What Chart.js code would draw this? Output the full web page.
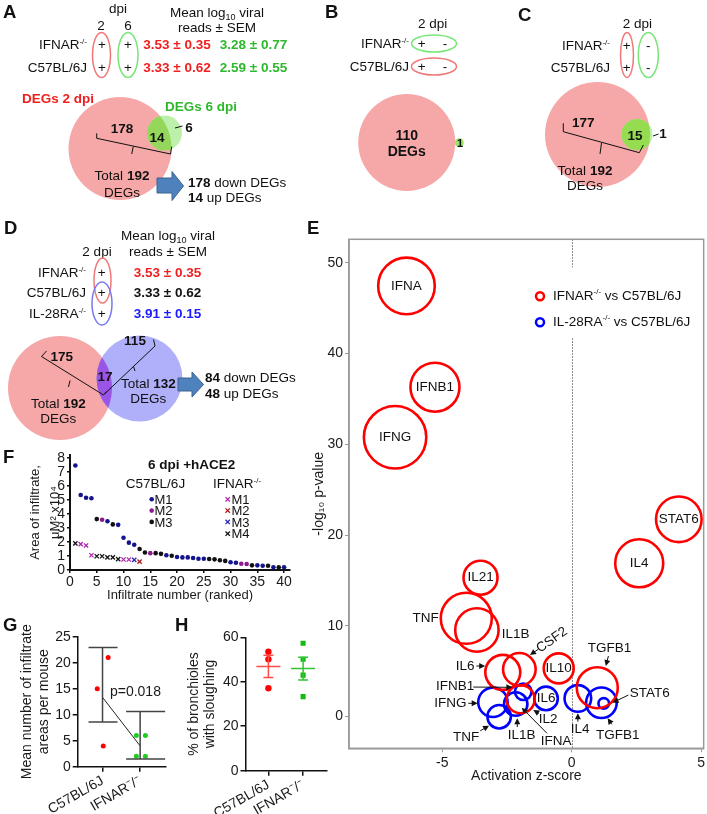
<!DOCTYPE html>
<html>
<head>
<meta charset="utf-8">
<script src="https://cdn.jsdelivr.net/npm/chart.js@4.4.1/dist/chart.umd.min.js"></script>
<style>
  body { margin: 0; background: #fff; }
  #wrap { position: relative; width: 707px; height: 814px; overflow: hidden; font-family: "Liberation Sans", Arial, sans-serif; }
  canvas { position: absolute; }
  svg { position: absolute; left: 0; top: 0; }
</style>
</head>
<body>
<div id="wrap">
<canvas id="chartE" width="407" height="589" style="left:300px;top:225px"></canvas>
<canvas id="chartF" width="300" height="165" style="left:0px;top:440px"></canvas>
<canvas id="chartG" width="175" height="204" style="left:0px;top:610px"></canvas>
<canvas id="chartH" width="155" height="204" style="left:175px;top:610px"></canvas>

<svg width="707" height="814" font-family="Liberation Sans, Arial, sans-serif" font-size="13.5" fill="#111">
  <defs>
    <clipPath id="pinkA"><circle cx="120" cy="148.5" r="51.5"/></clipPath>
    <clipPath id="pinkC"><circle cx="597.5" cy="134.5" r="52.5"/></clipPath>
    <clipPath id="pinkD"><circle cx="60" cy="388" r="52"/></clipPath>
  </defs>
  <!-- panel letters -->
  <g font-size="18.5" font-weight="bold">
    <text x="3" y="17.5">A</text>
    <text x="325" y="18">B</text>
    <text x="518" y="20.5">C</text>
    <text x="4" y="233.5">D</text>
    <text x="307" y="233.5">E</text>
    <text x="3" y="463">F</text>
    <text x="3" y="630.5">G</text>
    <text x="175" y="630.5">H</text>
  </g>

  <!-- A -->
  <text x="118" y="12.5" text-anchor="middle">dpi</text>
  <text x="101" y="29.5" text-anchor="middle">2</text>
  <text x="128" y="29.5" text-anchor="middle">6</text>
  <text x="87" y="48.5" text-anchor="end">IFNAR<tspan dy="-5" font-size="8">-/-</tspan></text>
  <text x="87" y="71.5" text-anchor="end">C57BL/6J</text>
  <ellipse cx="101.5" cy="55" rx="9" ry="22.5" fill="none" stroke="#f07878" stroke-width="1.5"/>
  <ellipse cx="128" cy="55" rx="10" ry="22.5" fill="none" stroke="#78e678" stroke-width="1.5"/>
  <g text-anchor="middle">
    <text x="102" y="48.5">+</text><text x="102" y="71.5">+</text>
    <text x="128" y="48.5">+</text><text x="128" y="71.5">+</text>
    <text x="217" y="16.5">Mean log<tspan dy="3" font-size="9">10</tspan><tspan dy="-3"> viral</tspan></text>
    <text x="217" y="31.5">reads ± SEM</text>
  </g>
  <g font-weight="bold" text-anchor="middle">
    <text x="177" y="48.5" fill="#f01e1e">3.53 ± 0.35</text>
    <text x="253.5" y="48.5" fill="#2db82d">3.28 ± 0.77</text>
    <text x="177" y="71.5" fill="#f01e1e">3.33 ± 0.62</text>
    <text x="253.5" y="71.5" fill="#2db82d">2.59 ± 0.55</text>
  </g>
  <text x="22" y="103" font-weight="bold" fill="#f01e1e">DEGs 2 dpi</text>
  <text x="165" y="111" font-weight="bold" fill="#2db82d">DEGs 6 dpi</text>
  <circle cx="120" cy="148.5" r="51.5" fill="#f6a7a7"/>
  <circle cx="164.5" cy="133" r="17.5" fill="#bdf0ab"/>
  <circle cx="164.5" cy="133" r="17.5" fill="#95d75a" clip-path="url(#pinkA)"/>
  <g font-weight="bold" text-anchor="middle">
    <text x="122" y="133">178</text>
    <text x="157" y="142">14</text>
    <text x="189" y="131.5">6</text>
  </g>
  <line x1="175" y1="128" x2="182.5" y2="126" stroke="#111" stroke-width="1"/>
  <polyline points="96.7,133.3 96.7,138.3 170.5,154 171.7,146.7" fill="none" stroke="#111" stroke-width="1"/>
  <polyline points="133.3,146.5 131.7,154" fill="none" stroke="#111" stroke-width="1"/>
  <text x="122" y="180" text-anchor="middle">Total <tspan font-weight="bold">192</tspan></text>
  <text x="122" y="197" text-anchor="middle">DEGs</text>
  <polygon points="157,178 172,178 172,171.5 183.5,186 172,200.5 172,193 157,193" fill="#4f81bd" stroke="#3a6491" stroke-width="1"/>
  <text x="188" y="186.5"><tspan font-weight="bold">178</tspan> down DEGs</text>
  <text x="188" y="201.5"><tspan font-weight="bold">14</tspan> up DEGs</text>

  <!-- B -->
  <text x="432.7" y="27.5" text-anchor="middle">2 dpi</text>
  <text x="409" y="47.5" text-anchor="end">IFNAR<tspan dy="-5" font-size="8">-/-</tspan></text>
  <text x="409" y="70.5" text-anchor="end">C57BL/6J</text>
  <ellipse cx="434" cy="43.5" rx="22.5" ry="8.5" fill="none" stroke="#78e678" stroke-width="1.5"/>
  <ellipse cx="434" cy="66.5" rx="22.5" ry="8.5" fill="none" stroke="#f07878" stroke-width="1.5"/>
  <g text-anchor="middle">
    <text x="421.7" y="47.5">+</text><text x="445" y="47.5">-</text>
    <text x="421.7" y="70.5">+</text><text x="445" y="70.5">-</text>
  </g>
  <circle cx="406.7" cy="142.5" r="48.5" fill="#f6a7a7"/>
  <circle cx="459.3" cy="142.7" r="4.5" fill="#9be26a"/>
  <g font-weight="bold" text-anchor="middle" font-size="14">
    <text x="406.7" y="139.5">110</text>
    <text x="406.7" y="155.5">DEGs</text>
    <text x="460" y="147" font-size="11">1</text>
  </g>

  <!-- C -->
  <text x="637.3" y="27.5" text-anchor="middle">2 dpi</text>
  <text x="610" y="49.5" text-anchor="end">IFNAR<tspan dy="-5" font-size="8">-/-</tspan></text>
  <text x="610" y="71.5" text-anchor="end">C57BL/6J</text>
  <ellipse cx="627" cy="55" rx="6.5" ry="22.5" fill="none" stroke="#f07878" stroke-width="1.5"/>
  <ellipse cx="648.3" cy="55" rx="10" ry="22.5" fill="none" stroke="#78e678" stroke-width="1.5"/>
  <g text-anchor="middle">
    <text x="626.7" y="49.5">+</text><text x="626.7" y="71.5">+</text>
    <text x="648.3" y="49.5">-</text><text x="648.3" y="71.5">-</text>
  </g>
  <circle cx="597.5" cy="134.5" r="52.5" fill="#f6a7a7"/>
  <circle cx="637" cy="134.5" r="15.5" fill="#bdf0ab"/>
  <circle cx="637" cy="134.5" r="15.5" fill="#95dc50" clip-path="url(#pinkC)"/>
  <g font-weight="bold" text-anchor="middle">
    <text x="583.3" y="126.5">177</text>
    <text x="635" y="140">15</text>
    <text x="663" y="137.5">1</text>
  </g>
  <line x1="653" y1="136" x2="658.5" y2="134" stroke="#111" stroke-width="1"/>
  <polyline points="563.3,123.3 563.3,131.7 639.3,152.7 643.3,145" fill="none" stroke="#111" stroke-width="1"/>
  <polyline points="601.5,143 600,154" fill="none" stroke="#111" stroke-width="1"/>
  <text x="585" y="174.5" text-anchor="middle">Total <tspan font-weight="bold">192</tspan></text>
  <text x="585" y="190" text-anchor="middle">DEGs</text>

  <!-- D -->
  <text x="168" y="239.5" text-anchor="middle">Mean log<tspan dy="3" font-size="9">10</tspan><tspan dy="-3"> viral</tspan></text>
  <text x="168" y="256" text-anchor="middle">reads ± SEM</text>
  <text x="97" y="256" text-anchor="middle">2 dpi</text>
  <text x="86" y="276.5" text-anchor="end">IFNAR<tspan dy="-5" font-size="8">-/-</tspan></text>
  <text x="86" y="297" text-anchor="end">C57BL/6J</text>
  <text x="86" y="317.5" text-anchor="end">IL-28RA<tspan dy="-5" font-size="8">-/-</tspan></text>
  <ellipse cx="102.5" cy="280.5" rx="8.5" ry="22.5" fill="none" stroke="#f07878" stroke-width="1.5"/>
  <ellipse cx="102" cy="303.5" rx="10" ry="21.5" fill="none" stroke="#7878f0" stroke-width="1.5"/>
  <g text-anchor="middle">
    <text x="101.7" y="276.5">+</text><text x="101.7" y="297">+</text><text x="101.7" y="317.5">+</text>
  </g>
  <g font-weight="bold" text-anchor="middle">
    <text x="167.5" y="276.5" fill="#f01e1e">3.53 ± 0.35</text>
    <text x="167.5" y="297" fill="#111">3.33 ± 0.62</text>
    <text x="167.5" y="317.5" fill="#1a1aff">3.91 ± 0.15</text>
  </g>
  <circle cx="60" cy="388" r="52" fill="#f6a7a7"/>
  <circle cx="139.5" cy="378.5" r="43" fill="#afaffa"/>
  <circle cx="139.5" cy="378.5" r="43" fill="#9b55e6" clip-path="url(#pinkD)"/>
  <g font-weight="bold" text-anchor="middle">
    <text x="61.7" y="361">175</text>
    <text x="135" y="344.5">115</text>
    <text x="105" y="381">17</text>
  </g>
  <polyline points="46.5,351 41.5,356.5 103.5,395 106.5,391.5" fill="none" stroke="#111" stroke-width="1"/>
  <polyline points="70,380.5 68.5,387" fill="none" stroke="#111" stroke-width="1"/>
  <polyline points="153.5,339.5 155,346 105,393.5" fill="none" stroke="#111" stroke-width="1"/>
  <polyline points="133.3,366 135,371" fill="none" stroke="#111" stroke-width="1"/>
  <text x="148.3" y="388" text-anchor="middle">Total <tspan font-weight="bold">132</tspan></text>
  <text x="148.3" y="402.5" text-anchor="middle">DEGs</text>
  <text x="58.3" y="408" text-anchor="middle">Total <tspan font-weight="bold">192</tspan></text>
  <text x="58.3" y="423" text-anchor="middle">DEGs</text>
  <polygon points="178,378 192,378 192,372 203.5,384.5 192,397 192,391 178,391" fill="#4f81bd" stroke="#3a6491" stroke-width="1"/>
  <text x="205" y="381.5"><tspan font-weight="bold">84</tspan> down DEGs</text>
  <text x="205" y="398"><tspan font-weight="bold">48</tspan> up DEGs</text>

  <!-- F legend -->
  <text x="191.7" y="469" text-anchor="middle" font-weight="bold">6 dpi +hACE2</text>
  <text x="155.5" y="487.5" text-anchor="middle">C57BL/6J</text>
  <text x="213" y="487.5">IFNAR<tspan dy="-5" font-size="8">-/-</tspan></text>
  <g font-size="13">
    <circle cx="151.7" cy="499.3" r="2.3" fill="#14148c"/><text x="154.5" y="504">M1</text>
    <circle cx="151.7" cy="510.6" r="2.3" fill="#8c1a8c"/><text x="154.5" y="515.3">M2</text>
    <circle cx="151.7" cy="521.9" r="2.3" fill="#111"/><text x="154.5" y="526.6">M3</text>
    <path d="M225.5,497.1 l4.4,4.4 M225.5,501.5 l4.4,-4.4" stroke="#b026b0" stroke-width="1.3"/><text x="231.5" y="504">M1</text>
    <path d="M225.5,508.4 l4.4,4.4 M225.5,512.8 l4.4,-4.4" stroke="#b01818" stroke-width="1.3"/><text x="231.5" y="515.3">M2</text>
    <path d="M225.5,519.7 l4.4,4.4 M225.5,524.1 l4.4,-4.4" stroke="#2828b4" stroke-width="1.3"/><text x="231.5" y="526.6">M3</text>
    <path d="M225.5,531.5 l4.4,4.4 M225.5,535.9 l4.4,-4.4" stroke="#111" stroke-width="1.3"/><text x="231.5" y="538.4">M4</text>
  </g>
</svg>
</div>

<script>
// ---------- E: upstream regulators ----------
const xTicksE = [-5, 0, 5];
const yTicksE = [0, 10, 20, 30, 40, 50];
const ifnarGenes = ['IFNA', 'IFNB1', 'IFNG', 'STAT6', 'IL4', 'IL21', 'TNF', 'IL1B', 'IL6', 'CSF2', 'IL10', 'TGFB1', 'IL2'];
const ifnarZ     = [-6.38, -5.28, -6.82, 4.14, 2.61, -3.52, -4.07, -3.66, -2.66, -2.02, -0.50, 0.99, -1.97];
const ifnarP     = [47.46, 36.3, 30.78, 21.74, 16.89, 15.3, 10.83, 9.54, 4.87, 5.2, 5.31, 3.18, 1.9];
const ifnarSize  = [28.3, 24.5, 31.2, 22.8, 24, 17, 25.5, 21.7, 17.5, 16.3, 15, 20.5, 14];
const il28Genes  = ['IFNG', 'TNF', 'IL1B', 'IFNB1', 'IL6', 'IL4', 'TGFB1', 'STAT6'];
const il28Z      = [-3.04, -2.80, -2.16, -1.87, -0.99, 0.24, 1.15, 1.24];
const il28P      = [1.57, -0.02, 1.38, 2.73, 2.0, 2.0, 1.52, 1.45];
const il28Size   = [14.7, 11.7, 11.7, 8.3, 11.8, 13.3, 15.3, 5.3];

// labels drawn inside the circle
const insideE = [['r', 'IFNA'], ['r', 'IFNB1'], ['r', 'IFNG'], ['r', 'STAT6'], ['r', 'IL4'], ['r', 'IL21'], ['r', 'IL10'], ['b', 'IL6']];
// outside labels: text position and arrow (from -> to), in axis units
const calloutsE = [
  {t: 'TNF',   at: [-5.64, 10.86]},
  {t: 'IL1B',  at: [-2.16, 9.10]},
  {t: 'IL6',   at: [-4.11, 5.57], from: [-3.68, 5.57], to: [-3.34, 5.57]},
  {t: 'CSF2',  at: [-0.76, 8.43], from: [-1.29, 7.41], to: [-1.61, 6.78], rot: -35},
  {t: 'TGFB1', at: [1.46, 7.52],  from: [1.42, 6.67],  to: [1.32, 5.57]},
  {t: 'IFNB1', at: [-4.50, 3.29], from: [-3.80, 3.25], to: [-2.29, 3.22]},
  {t: 'IFNG',  at: [-4.68, 1.46], from: [-3.99, 1.46], to: [-3.63, 1.46]},
  {t: 'TNF',   at: [-4.08, -2.29], from: [-3.53, -1.57], to: [-3.19, -1.01]},
  {t: 'IL1B',  at: [-1.93, -2.04], from: [-2.10, -1.16], to: [-2.10, -0.20]},
  {t: 'IFNA',  at: [-0.60, -2.70], from: [-0.95, -1.85], to: [-1.93, 0.97]},
  {t: 'IL2',   at: [-0.91, -0.28], from: [-1.27, 0.35],  to: [-1.48, 0.72]},
  {t: 'IL4',   at: [0.33, -1.38],  from: [0.24, -0.57],  to: [0.24, 0.35]},
  {t: 'TGFB1', at: [1.78, -2.12],  from: [1.55, -0.86],  to: [1.39, -0.20]},
  {t: 'STAT6', at: [3.02, 2.56],   from: [2.19, 2.37],   to: [1.58, 1.52]}
];

// ---------- F: infiltrate areas ----------
const xTicksF = [0, 5, 10, 15, 20, 25, 30, 35, 40];
const yTicksF = [0, 1, 2, 3, 4, 5, 6, 7, 8];
const c57Area  = [7.45, 5.35, 5.15, 5.12, 3.63, 3.58, 3.48, 3.25, 3.22, 2.3, 1.95, 1.8, 1.5, 1.25, 1.2, 1.2, 1.15, 1.05, 1.02, 0.93,
                  0.9, 0.9, 0.86, 0.8, 0.8, 0.78, 0.76, 0.7, 0.65, 0.55, 0.52, 0.45, 0.43, 0.33, 0.33, 0.3, 0.3, 0.2, 0.2, 0.2];
const c57Mouse = ['M1', 'M1', 'M1', 'M1', 'M3', 'M2', 'M1', 'M3', 'M1', 'M1', 'M1', 'M1', 'M3', 'M3', 'M2', 'M3', 'M3', 'M1', 'M3', 'M1',
                  'M1', 'M1', 'M1', 'M1', 'M1', 'M3', 'M3', 'M3', 'M3', 'M1', 'M1', 'M2', 'M2', 'M3', 'M1', 'M1', 'M3', 'M1', 'M3', 'M1'];
const ifnarArea  = [1.9, 1.85, 1.75, 1.05, 0.98, 0.98, 0.9, 0.9, 0.78, 0.75, 0.75, 0.72, 0.6];
const ifnarMouse = ['M4', 'M1', 'M1', 'M1', 'M4', 'M4', 'M4', 'M4', 'M4', 'M1', 'M1', 'M3', 'M2'];

// ---------- G: infiltrate areas per mouse ----------
const groups = ['C57BL/6J', 'IFNAR\u207B/\u207B'];
const gC57   = [21, 15, 4];
const gC57X  = [1.15, 0.86, 1.02];
const gIfnar = [6, 6, 2, 2];
const gIfnarX = [1.90, 2.14, 1.90, 2.14];
const gLow  = [8.6, 1.5];
const gHigh = [22.9, 10.6];
const yTicksG = [0, 5, 10, 15, 20, 25];

// ---------- H: bronchioles with sloughing ----------
const hC57   = [53.5, 50.1, 37.1];
const hIfnar = [57.3, 50.1, 43.0, 33.3];
const yTicksH = [0, 20, 40, 60];

const FONT = '"Liberation Sans", Arial, sans-serif';
Chart.defaults.font.family = FONT;
Chart.defaults.color = '#1a1a1a';
Chart.defaults.animation = false;
Chart.defaults.responsive = false;
Chart.defaults.plugins.legend.display = false;
Chart.defaults.plugins.tooltip.enabled = false;

function only(vals) { return s => { s.ticks = vals.map(v => ({value: v})); }; }
function fixW(w) { return s => { s.width = w; }; }
function fixH(h) { return s => { s.height = h; }; }
function mean(a) { return a.reduce((s, v) => s + v, 0) / a.length; }
function sem(a) {
  const m = mean(a);
  return Math.sqrt(a.reduce((s, v) => s + (v - m) * (v - m), 0) / (a.length - 1)) / Math.sqrt(a.length);
}

function arrow(ctx, x1, y1, x2, y2) {
  const ang = Math.atan2(y2 - y1, x2 - x1), L = 6, W = 3;
  ctx.beginPath(); ctx.moveTo(x1, y1); ctx.lineTo(x2 - Math.cos(ang) * L * 0.8, y2 - Math.sin(ang) * L * 0.8); ctx.stroke();
  ctx.beginPath();
  ctx.moveTo(x2, y2);
  ctx.lineTo(x2 - L * Math.cos(ang) + W * Math.sin(ang), y2 - L * Math.sin(ang) - W * Math.cos(ang));
  ctx.lineTo(x2 - L * Math.cos(ang) - W * Math.sin(ang), y2 - L * Math.sin(ang) + W * Math.cos(ang));
  ctx.closePath(); ctx.fill();
}

// text with a small raised part, e.g. IFNAR-/-
function supText(ctx, parts, x, y) {
  parts.forEach(([txt, size, dy]) => {
    ctx.font = size + 'px ' + FONT;
    ctx.fillText(txt, x, y + dy);
    x += ctx.measureText(txt).width;
  });
}

const eExtras = {
  id: 'eExtras',
  beforeDatasetsDraw(chart) {
    const {ctx, chartArea: a, scales: {x}} = chart;
    const x0 = Math.round(x.getPixelForValue(0)) + 0.5;
    ctx.save();
    ctx.strokeStyle = '#666'; ctx.lineWidth = 1; ctx.setLineDash([1.5, 1.5]);
    ctx.beginPath(); ctx.moveTo(x0, a.top); ctx.lineTo(x0, a.bottom); ctx.stroke();
    ctx.restore();
  },
  afterDatasetsDraw(chart) {
    const {ctx, chartArea: a, scales: {x, y}} = chart;
    ctx.save();
    ctx.strokeStyle = '#999'; ctx.lineWidth = 1.5;
    ctx.strokeRect(a.left, a.top, a.right - a.left, a.bottom - a.top);

    ctx.fillStyle = '#111'; ctx.strokeStyle = '#111'; ctx.lineWidth = 1;
    ctx.font = '13.5px ' + FONT; ctx.textAlign = 'center'; ctx.textBaseline = 'middle';
    insideE.forEach(([set, g]) => {
      const genes = set === 'r' ? ifnarGenes : il28Genes;
      const zs = set === 'r' ? ifnarZ : il28Z, ps = set === 'r' ? ifnarP : il28P;
      const i = genes.indexOf(g);
      ctx.fillText(g, x.getPixelForValue(zs[i]), y.getPixelForValue(ps[i]));
    });
    calloutsE.forEach(c => {
      const lx = x.getPixelForValue(c.at[0]), ly = y.getPixelForValue(c.at[1]);
      if (c.rot) {
        ctx.save(); ctx.translate(lx, ly); ctx.rotate(c.rot * Math.PI / 180);
        ctx.fillText(c.t, 0, 0); ctx.restore();
      } else {
        ctx.fillText(c.t, lx, ly);
      }
      if (c.from) arrow(ctx, x.getPixelForValue(c.from[0]), y.getPixelForValue(c.from[1]),
                        x.getPixelForValue(c.to[0]), y.getPixelForValue(c.to[1]));
    });

    // legend
    const lx = a.left + 191, ly1 = a.top + 57, ly2 = a.top + 83;
    ctx.fillStyle = '#fff';
    ctx.fillRect(lx - 12, a.top + 28, 162, 70);
    ctx.lineWidth = 2.5;
    ctx.strokeStyle = '#ff0000'; ctx.beginPath(); ctx.arc(lx, ly1, 4, 0, 2 * Math.PI); ctx.stroke();
    ctx.strokeStyle = '#0000ff'; ctx.beginPath(); ctx.arc(lx, ly2, 4, 0, 2 * Math.PI); ctx.stroke();
    ctx.fillStyle = '#111'; ctx.textAlign = 'left';
    supText(ctx, [['IFNAR', 13.5, 0], ['-/-', 8, -5], [' vs C57BL/6J', 13.5, 0]], lx + 13, ly1);
    supText(ctx, [['IL-28RA', 13.5, 0], ['-/-', 8, -5], [' vs C57BL/6J', 13.5, 0]], lx + 13, ly2);
    ctx.restore();
  }
};

new Chart(document.getElementById('chartE'), {
  type: 'bubble',
  data: {
    datasets: [
      {data: ifnarGenes.map((g, i) => ({x: ifnarZ[i], y: ifnarP[i], r: ifnarSize[i]})),
       borderColor: '#ff0000', backgroundColor: 'rgba(0,0,0,0)', borderWidth: 2.6, clip: false},
      {data: il28Genes.map((g, i) => ({x: il28Z[i], y: il28P[i], r: il28Size[i]})),
       borderColor: '#0000ff', backgroundColor: 'rgba(0,0,0,0)', borderWidth: 2.6, clip: false}
    ]
  },
  options: {
    layout: {autoPadding: false, padding: {top: 14.3, right: 2, left: 0, bottom: 0}},
    scales: {
      x: {type: 'linear', min: -8.6, max: 5.1, afterBuildTicks: only(xTicksE), afterFit: fixH(65.7),
          grid: {drawOnChartArea: false, color: '#999', tickLength: 4},
          border: {color: '#999', width: 1.5},
          ticks: {font: {size: 14}, color: '#1a1a1a', padding: 2, autoSkip: false},
          title: {display: true, text: 'Activation z-score', font: {size: 14}, color: '#1a1a1a', padding: {top: 0, bottom: 29.6}}},
      y: {type: 'linear', min: -3.5, max: 52.6, afterBuildTicks: only(yTicksE), afterFit: fixW(49),
          grid: {drawOnChartArea: false, color: '#999', tickLength: 4},
          border: {color: '#999', width: 1.5},
          ticks: {font: {size: 14}, color: '#1a1a1a', padding: 2, autoSkip: false},
          title: {display: true, text: '-log\u2081\u2080 p-value', font: {size: 14}, color: '#1a1a1a', padding: {top: 11, bottom: 0}}}
    }
  },
  plugins: [eExtras]
});

// ---------- F ----------
const c57Colors   = {M1: '#14148c', M2: '#8c1a8c', M3: '#111111'};
const ifnarColors = {M1: '#b026b0', M2: '#b01818', M3: '#2828b4', M4: '#111111'};
const dsF = [];
Object.keys(ifnarColors).forEach(m => dsF.push({
  data: ifnarArea.map((v, i) => ({x: i + 1, y: v, m: ifnarMouse[i]})).filter(p => p.m === m),
  pointStyle: 'crossRot', pointRadius: 3, borderColor: ifnarColors[m], borderWidth: 1.3
}));
Object.keys(c57Colors).forEach(m => dsF.push({
  data: c57Area.map((v, i) => ({x: i + 1, y: v, m: c57Mouse[i]})).filter(p => p.m === m),
  pointStyle: 'circle', pointRadius: 2.3, backgroundColor: c57Colors[m], borderColor: c57Colors[m], borderWidth: 0
}));

new Chart(document.getElementById('chartF'), {
  type: 'scatter',
  data: {datasets: dsF},
  options: {
    layout: {autoPadding: false, padding: {top: 15, right: 10, left: 0, bottom: 0}},
    scales: {
      x: {type: 'linear', min: 0, max: 41.1, afterBuildTicks: only(xTicksF), afterFit: fixH(35),
          grid: {drawOnChartArea: false, color: '#111', tickLength: 3, lineWidth: 1.5},
          border: {color: '#111', width: 2},
          ticks: {font: {size: 14}, color: '#1a1a1a', padding: 1, autoSkip: false, maxRotation: 0},
          title: {display: true, text: 'Infiltrate number (ranked)', font: {size: 13}, color: '#1a1a1a', padding: {top: 0, bottom: 1.5}}},
      y: {type: 'linear', min: 0, max: 8.2, afterBuildTicks: only(yTicksF), afterFit: fixW(70),
          grid: {drawOnChartArea: false, color: '#111', tickLength: 3, lineWidth: 1.5},
          border: {color: '#111', width: 2},
          ticks: {font: {size: 14, lineHeight: 1}, color: '#1a1a1a', padding: 2, autoSkip: false},
          title: {display: true, text: ['Area of infiltrate,', '\u03BCM\u00B2 x10\u2074'], font: {size: 13, lineHeight: 1.55}, color: '#1a1a1a', padding: {top: 25, bottom: 0}}}
    }
  }
});

// ---------- G / H shared ----------
const errBars = {
  id: 'errBars',
  afterDatasetsDraw(chart, args, opts) {
    const {ctx, scales: {x, y}} = chart;
    ctx.save();
    (opts.bars || []).forEach(b => {
      const cx = x.getPixelForValue(b.x);
      ctx.strokeStyle = b.color; ctx.lineWidth = b.width;
      ctx.beginPath();
      ctx.moveTo(cx, y.getPixelForValue(b.lo)); ctx.lineTo(cx, y.getPixelForValue(b.hi));
      [b.lo, b.hi].forEach(v => {
        const py = y.getPixelForValue(v);
        ctx.moveTo(cx - b.capL, py); ctx.lineTo(cx + b.capR, py);
      });
      if (b.mean != null) {
        const py = y.getPixelForValue(b.mean);
        ctx.moveTo(cx - b.meanW, py); ctx.lineTo(cx + b.meanW, py);
      }
      ctx.stroke();
    });
    if (opts.text) {
      ctx.fillStyle = '#1a1a1a'; ctx.font = '14px ' + FONT; ctx.textAlign = 'center'; ctx.textBaseline = 'middle';
      ctx.fillText(opts.text.t, x.getPixelForValue(opts.text.at[0]), y.getPixelForValue(opts.text.at[1]));
    }
    ctx.restore();
  }
};

function catScale(h) {
  return {type: 'linear', min: 0.34, max: 2.68, afterBuildTicks: only([1, 2]), afterFit: fixH(h),
          grid: {drawOnChartArea: false, color: '#111', tickLength: 5, lineWidth: 1.5},
          border: {color: '#111', width: 1.5},
          ticks: {font: {size: 14}, color: '#1a1a1a', padding: 1, autoSkip: false, minRotation: 30, maxRotation: 30,
                  callback: (v, i) => groups[i]}};
}
function valScale(max, ticks, w, title, padTop) {
  return {type: 'linear', min: 0, max: max, afterBuildTicks: only(ticks), afterFit: fixW(w),
          grid: {drawOnChartArea: false, color: '#111', tickLength: 5, lineWidth: 1.5},
          border: {color: '#111', width: 1.5},
          ticks: {font: {size: 14}, color: '#1a1a1a', padding: 2, autoSkip: false},
          title: {display: true, text: title, font: {size: 14, lineHeight: 1.2}, color: '#1a1a1a', padding: {top: padTop, bottom: 0}}};
}

// ---------- G ----------
new Chart(document.getElementById('chartG'), {
  type: 'scatter',
  data: {datasets: [
    {data: gC57.map((v, i) => ({x: gC57X[i], y: v})), pointRadius: 2.5, backgroundColor: '#ff0000', borderWidth: 0},
    {data: gIfnar.map((v, i) => ({x: gIfnarX[i], y: v})), pointRadius: 2.5, backgroundColor: '#22cc22', borderWidth: 0},
    {data: [{x: 1, y: mean(gC57)}, {x: 2, y: mean(gIfnar)}], showLine: true, borderColor: '#222', borderWidth: 1, pointRadius: 0}
  ]},
  options: {
    layout: {autoPadding: false, padding: {top: 26.7, right: 9.3, left: 0, bottom: 0}},
    scales: {
      x: catScale(47.3),
      y: valScale(25, yTicksG, 77.7, ['Mean number of infiltrate', 'areas per mouse'], 19)
    },
    plugins: {errBars: {
      bars: [
        {x: 1, lo: gLow[0], hi: gHigh[0], capL: 14, capR: 15, color: '#444', width: 1.5},
        {x: 2, lo: gLow[1], hi: gHigh[1], capL: 14, capR: 25, color: '#444', width: 1.5}
      ],
      text: {t: 'p=0.018', at: [1.875, 14.4]}
    }}
  },
  plugins: [errBars]
});

// ---------- H ----------
new Chart(document.getElementById('chartH'), {
  type: 'scatter',
  data: {datasets: [
    {data: hC57.map(v => ({x: 1, y: v})), pointRadius: 3.2, backgroundColor: '#ff0000', borderWidth: 0},
    {data: hIfnar.map(v => ({x: 2, y: v})), pointStyle: 'rect', pointRadius: 3.6, backgroundColor: '#11bb11', borderWidth: 0}
  ]},
  options: {
    layout: {autoPadding: false, padding: {top: 27.3, right: 3.3, left: 0, bottom: 0}},
    scales: {
      x: catScale(43.3),
      y: valScale(60, yTicksH, 70.5, ['% of bronchioles', 'with sloughing'], 10.3)
    },
    plugins: {errBars: {
      bars: [
        {x: 1, lo: mean(hC57) - sem(hC57), hi: mean(hC57) + sem(hC57), mean: mean(hC57), meanW: 12, capL: 5, capR: 5, color: '#ff4a4a', width: 1.5},
        {x: 2, lo: mean(hIfnar) - sem(hIfnar), hi: mean(hIfnar) + sem(hIfnar), mean: mean(hIfnar), meanW: 12, capL: 5, capR: 5, color: '#33c433', width: 1.5}
      ]
    }}
  },
  plugins: [errBars]
});
</script>
</body>
</html>
